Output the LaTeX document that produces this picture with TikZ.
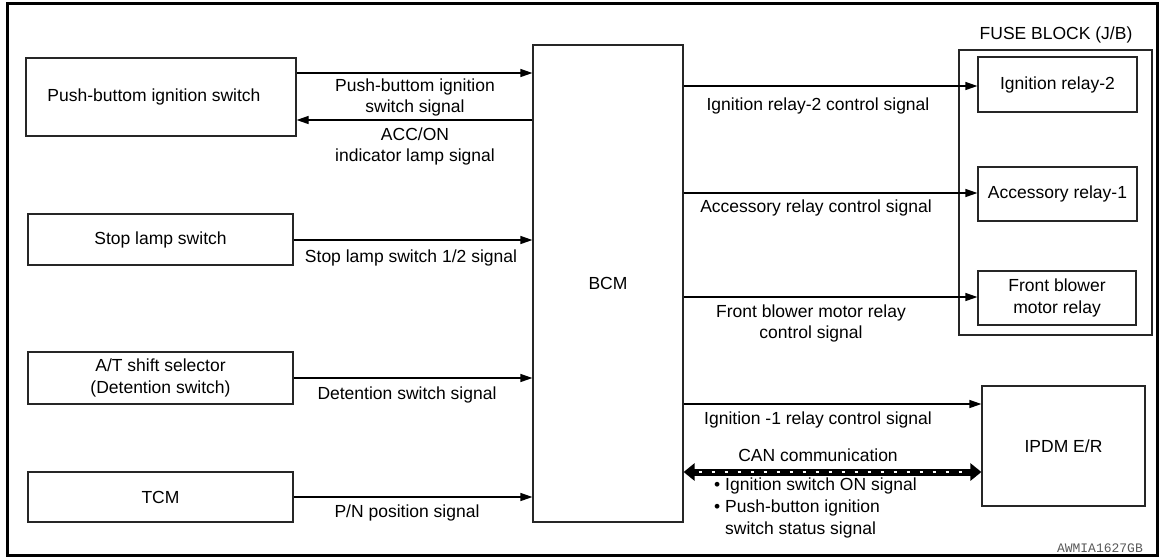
\documentclass[tikz,border=0pt]{standalone}
\usepackage{fontspec}
\setmainfont{Liberation Sans}
\newfontfamily\monofont{Liberation Mono}
\usetikzlibrary{arrows.meta}
\tikzset{
  blk/.style={draw=black!85, line width=1.2pt, inner sep=0pt, align=center, font=\fontsize{17.5}{21.5}\selectfont},
  lbl/.style={inner sep=0pt, align=center, font=\fontsize{17.5}{21.5}\selectfont},
  sig/.style={line width=1.2pt, -{Triangle[length=12pt,width=8pt]}},
  canbus/.style={line width=7pt, {Triangle[length=11pt,width=17pt]}-{Triangle[length=11pt,width=17pt]}},
  candash/.style={white, line width=2.4pt, dash pattern=on 3.5pt off 9.5pt, shorten <=15pt, shorten >=15pt},
}
\begin{document}
\begin{tikzpicture}[x=1pt,y=-1pt]
\useasboundingbox (0,0) rectangle (1161,558);
\draw[line width=3pt] (7.5,3.5) rectangle (1157.5,555.5);

% left blocks
\node[blk, minimum width=270pt, minimum height=78pt] (pbs) at (161,97) {Push-buttom ignition switch\hspace{14pt}};
\node[blk, minimum width=265pt, minimum height=51pt] (slamp) at (160.5,239.5) {Stop lamp switch};
\node[blk, minimum width=265pt, minimum height=52pt] (ats) at (160.5,378) {A/T shift selector\\(Detention switch)};
\node[blk, minimum width=265pt, minimum height=50pt] (tcm) at (160.5,497) {TCM};

% BCM
\node[blk, minimum width=150pt, minimum height=477pt] (bcm) at (608,283.5) {BCM};

% fuse block
\node[blk, minimum width=193pt, minimum height=285pt] (fuse) at (1055.5,192.5) {};
\node[lbl] (fuset) at (1056,35) {FUSE BLOCK (J/B)};
\node[blk, minimum width=159pt, minimum height=55pt] (ir2) at (1057.5,84.5) {Ignition relay-2};
\node[blk, minimum width=159pt, minimum height=54pt] (acc) at (1057.5,194) {Accessory relay-1};
\node[blk, minimum width=158pt, minimum height=54pt] (fbm) at (1057,298) {Front blower\\motor relay};

% IPDM
\node[blk, minimum width=163pt, minimum height=120pt] (ipdm) at (1063.5,446) {IPDM E/R};

% left connectors
\draw[sig] (pbs.east |- 0,73) -- (bcm.west |- 0,73);
\draw[sig] (bcm.west |- 0,120) -- (pbs.east |- 0,120);
\draw[sig] (slamp.east |- 0,240) -- (bcm.west |- 0,240);
\draw[sig] (ats.east |- 0,378) -- (bcm.west |- 0,378);
\draw[sig] (tcm.east |- 0,497) -- (bcm.west |- 0,497);

% right connectors
\draw[sig] (bcm.east |- 0,86) -- (ir2.west |- 0,86);
\draw[sig] (bcm.east |- 0,193) -- (acc.west |- 0,193);
\draw[sig] (bcm.east |- 0,297) -- (fbm.west |- 0,297);
\draw[sig] (bcm.east |- 0,404) -- (ipdm.west |- 0,404);
\draw[canbus] (bcm.east |- 0,472) -- (ipdm.west |- 0,472);
\draw[candash] (bcm.east |- 0,472) -- (ipdm.west |- 0,472);

% labels
\node[lbl] (l1) at (415,97.5) {Push-buttom ignition\\switch signal};
\node[lbl] (l2) at (415,146.5) {ACC/ON\\indicator lamp signal};
\node[lbl] (l3) at (411,258) {Stop lamp switch 1/2 signal};
\node[lbl] (l4) at (407,395) {Detention switch signal};
\node[lbl] (l5) at (407,513) {P/N position signal};
\node[lbl] (r1) at (818,106) {Ignition relay-2 control signal};
\node[lbl] (r2) at (816,208) {Accessory relay control signal};
\node[lbl] (r3) at (811,323.5) {Front blower motor relay\\control signal};
\node[lbl] (r4) at (818,420) {Ignition -1 relay control signal};
\node[lbl] (r5) at (818,455) {CAN communication};
\node[lbl, align=left, anchor=north west, font=\fontsize{17.5}{22}\selectfont] (r6) at (714,478)
  {\textbullet\ Ignition switch ON signal\\\textbullet\ Push-button ignition\\\phantom{\textbullet\ }switch status signal};

\node[anchor=east, inner sep=0pt, text=black!65, font=\monofont\fontsize{13}{15}\selectfont] (code) at (1143,548) {AWMIA1627GB};
\end{tikzpicture}
\end{document}
